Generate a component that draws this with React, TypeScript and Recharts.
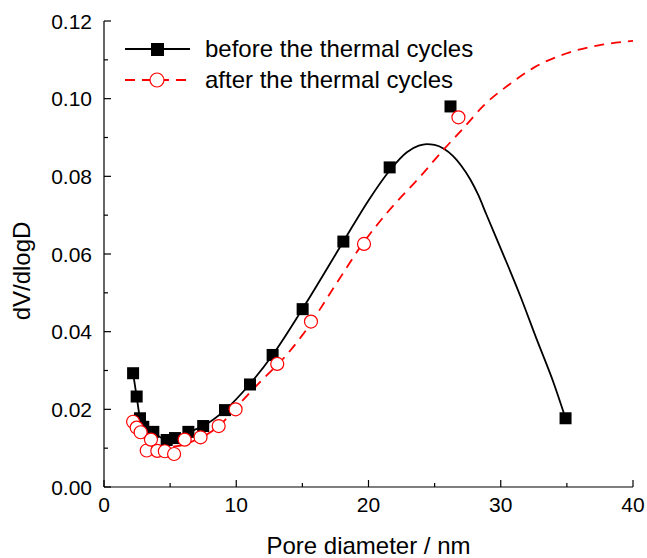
import React from "react";
import { ComposedChart, Line, Scatter, XAxis, YAxis } from "recharts";

// measured points
const beforeD = [2.2, 2.47, 2.72, 2.97, 3.73, 4.74, 5.37, 6.38, 7.5, 9.15, 11.04, 12.75, 15.02, 18.1, 21.6, 26.2, 34.9];
const beforeV = [0.0293, 0.0233, 0.0177, 0.0155, 0.0142, 0.0121, 0.0126, 0.0142, 0.0157, 0.0198, 0.0264, 0.034, 0.0458, 0.0632, 0.0823, 0.098, 0.0177];
const afterD = [2.2, 2.47, 2.77, 3.23, 3.55, 4.03, 4.6, 5.3, 6.1, 7.3, 8.67, 9.95, 13.1, 15.65, 19.66, 26.8];
const afterV = [0.0168, 0.0153, 0.0141, 0.0094, 0.0122, 0.0093, 0.0092, 0.0085, 0.0122, 0.0128, 0.0157, 0.02, 0.0317, 0.0426, 0.0626, 0.0952];

// fitted curves
const beforeFitD = [2.2, 2.47, 2.72, 3.0, 3.7, 4.7, 5.4, 6.4, 7.5, 9.15, 11.0, 12.75, 15.0, 18.1, 20.0, 21.6, 22.9, 23.8, 24.4, 25.0, 25.7, 26.4, 27.0, 27.7, 28.3, 28.9, 30.2, 31.5, 32.7, 34.0, 34.9];
const beforeFitV = [0.0293, 0.0233, 0.0177, 0.0155, 0.0142, 0.0122, 0.0126, 0.0141, 0.0157, 0.0198, 0.0264, 0.034, 0.0458, 0.0632, 0.0738, 0.0815, 0.0862, 0.0879, 0.0883, 0.0881, 0.0871, 0.0852, 0.0828, 0.0792, 0.0752, 0.0703, 0.0598, 0.049, 0.0382, 0.0268, 0.0177];
const afterFitD = [2.2, 2.8, 3.5, 4.5, 5.5, 6.5, 7.5, 8.7, 10.0, 11.7, 13.8, 15.0, 17.5, 19.4, 21.5, 23.9, 25.5, 27.2, 28.7, 30.7, 32.5, 35.0, 37.5, 40.0];
const afterFitV = [0.0168, 0.0135, 0.0115, 0.0103, 0.0105, 0.0115, 0.013, 0.0157, 0.0205, 0.0267, 0.034, 0.0391, 0.052, 0.0619, 0.071, 0.0799, 0.0862, 0.0925, 0.0982, 0.1038, 0.108, 0.1117, 0.1138, 0.1149];

const xTicks = [0, 10, 20, 30, 40];
const xMinor = [5, 15, 25, 35];
const yTicks = [0, 0.02, 0.04, 0.06, 0.08, 0.1, 0.12];
const yMinor = [0.01, 0.03, 0.05, 0.07, 0.09, 0.11];

const zip = (d: number[], v: number[]) => d.map((x, i) => ({ d: x, v: v[i] }));

const FONT = "'Liberation Sans', Arial, sans-serif";
const RED = "#ff0000";

const isMajor = (val: number, majors: number[]) => majors.some((m) => Math.abs(m - val) < 1e-9);

const BottomTick = (props: any) => {
  const { x, y, payload } = props;
  const major = isMajor(payload.value, xTicks);
  return (
    <g>
      <line x1={x} x2={x} y1={y} y2={y - (major ? 7 : 4)} stroke="#000" strokeWidth={1.2} />
      {major && (
        <text x={x} y={y + 25} textAnchor="middle" fontSize={21} fontFamily={FONT} fill="#000">
          {payload.value}
        </text>
      )}
    </g>
  );
};

const TopTick = (props: any) => {
  const { x, y, payload } = props;
  const major = isMajor(payload.value, xTicks);
  return <line x1={x} x2={x} y1={y} y2={y + (major ? 7 : 4)} stroke="#000" strokeWidth={1.2} />;
};

const LeftTick = (props: any) => {
  const { x, y, payload } = props;
  const major = isMajor(payload.value, yTicks);
  return (
    <g>
      <line x1={x} x2={x + (major ? 7 : 4)} y1={y} y2={y} stroke="#000" strokeWidth={1.2} />
      {major && (
        <text x={x - 12} y={y + 7.5} textAnchor="end" fontSize={21} fontFamily={FONT} fill="#000">
          {payload.value.toFixed(2)}
        </text>
      )}
    </g>
  );
};

const RightTick = (props: any) => {
  const { x, y, payload } = props;
  const major = isMajor(payload.value, yTicks);
  return <line x1={x} x2={x - (major ? 7 : 4)} y1={y} y2={y} stroke="#000" strokeWidth={1.2} />;
};

const Square = (props: any) => {
  const { cx, cy } = props;
  return <rect x={cx - 6} y={cy - 6} width={12} height={12} fill="#000" />;
};

const Ring = (props: any) => {
  const { cx, cy } = props;
  return <circle cx={cx} cy={cy} r={6.5} fill="#fff" stroke={RED} strokeWidth={1.2} />;
};

const LegendBox = () => (
  <svg width={400} height={80} style={{ position: "absolute", left: 110, top: 20 }}>
    <line x1={15} x2={80} y1={29} y2={29} stroke="#000" strokeWidth={2} />
    <rect x={41} y={23} width={13} height={13} fill="#000" />
    <text x={95} y={37} fontSize={24} fontFamily={FONT} fill="#000">
      before the thermal cycles
    </text>
    <line x1={15} x2={80} y1={60} y2={60} stroke={RED} strokeWidth={1.8} strokeDasharray="10 7" />
    <circle cx={47} cy={60} r={7} fill="#fff" stroke={RED} strokeWidth={1.2} />
    <text x={95} y={68} fontSize={24} fontFamily={FONT} fill="#000">
      after the thermal cycles
    </text>
  </svg>
);

export default function App() {
  const allX = [...xTicks, ...xMinor].sort((a, b) => a - b);
  const allY = [...yTicks, ...yMinor].sort((a, b) => a - b);
  return (
    <div style={{ position: "absolute", left: 0, top: 0, width: 647, height: 558, background: "#fff" }}>
      <ComposedChart width={647} height={558} margin={{ top: 21, right: 14, bottom: 0, left: 0 }}>
        <XAxis
          xAxisId="b"
          dataKey="d"
          type="number"
          domain={[0, 40]}
          ticks={allX}
          interval={0}
          tick={<BottomTick />}
          tickLine={false}
          tickSize={0}
          tickMargin={0}
          height={71}
          axisLine={{ stroke: "#000", strokeWidth: 1.2 }}
          label={{
            value: "Pore diameter / nm",
            position: "insideBottom",
            offset: 4,
            fontSize: 24,
            fontFamily: FONT,
            fill: "#000",
          }}
        />
        <XAxis
          xAxisId="t"
          orientation="top"
          dataKey="d"
          type="number"
          domain={[0, 40]}
          ticks={allX}
          interval={0}
          tick={<TopTick />}
          tickLine={false}
          tickSize={0}
          tickMargin={0}
          height={0}
          axisLine={{ stroke: "#000", strokeWidth: 1.2 }}
        />
        <YAxis
          yAxisId="l"
          type="number"
          domain={[0, 0.12]}
          ticks={allY}
          interval={0}
          tick={<LeftTick />}
          tickLine={false}
          tickSize={0}
          tickMargin={0}
          width={104}
          axisLine={{ stroke: "#000", strokeWidth: 1.2 }}
          label={{
            content: () => (
              <text
                transform="translate(30,271) rotate(-90)"
                textAnchor="middle"
                fontSize={24}
                fontFamily={FONT}
                fill="#000"
              >
                dV/dlogD
              </text>
            ),
          }}
        />
        <YAxis
          yAxisId="r"
          orientation="right"
          type="number"
          domain={[0, 0.12]}
          ticks={allY}
          interval={0}
          tick={<RightTick />}
          tickLine={false}
          tickSize={0}
          tickMargin={0}
          width={0}
          axisLine={{ stroke: "#000", strokeWidth: 1.2 }}
        />
        <Line
          xAxisId="b"
          yAxisId="l"
          data={zip(beforeFitD, beforeFitV)}
          dataKey="v"
          type="monotone"
          stroke="#000"
          strokeWidth={1.8}
          dot={false}
          activeDot={false}
          isAnimationActive={false}
        />
        <Line
          xAxisId="b"
          yAxisId="l"
          data={zip(afterFitD, afterFitV)}
          dataKey="v"
          type="monotone"
          stroke={RED}
          strokeWidth={1.8}
          strokeDasharray="10 7"
          dot={false}
          activeDot={false}
          isAnimationActive={false}
        />
        <Scatter
          xAxisId="b"
          yAxisId="l"
          data={zip(beforeD, beforeV)}
          dataKey="v"
          shape={<Square />}
          isAnimationActive={false}
        />
        <Scatter
          xAxisId="b"
          yAxisId="l"
          data={zip(afterD, afterV)}
          dataKey="v"
          shape={<Ring />}
          isAnimationActive={false}
        />
      </ComposedChart>
      <LegendBox />
    </div>
  );
}
